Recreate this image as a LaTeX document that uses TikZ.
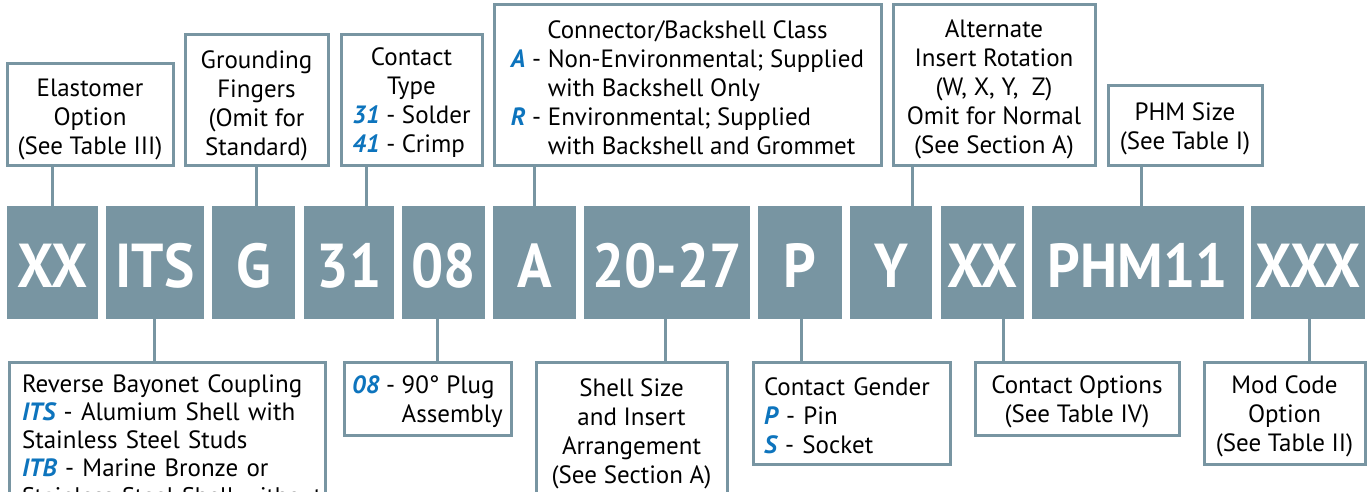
\documentclass[tikz,border=0pt]{standalone}
\usepackage{fontspec}
\setmainfont{PT Sans}
\newfontfamily\codefont[FakeStretch=0.92]{PT Sans}
\definecolor{slate}{HTML}{7895A2}
\definecolor{codeblue}{HTML}{0D74BD}
\newcommand{\hl}[1]{{\color{codeblue}\bfseries\itshape #1}}
\newcommand{\fs}[1][26pt]{\rule{0pt}{#1}}
\tikzset{
  codebox/.style={fill=slate, text=white, inner sep=0pt, outer sep=0pt, anchor=north west,
    minimum height=113pt, text height=49pt, text depth=0pt,
    font=\codefont\bfseries\fontsize{62}{62}\selectfont},
  descbox/.style={draw=slate, line width=3pt, fill=white, inner sep=0pt, outer sep=0pt,
    anchor=north west, font=\fontsize{25}{29}\selectfont},
  link/.style={draw=slate, line width=3pt},
}
\begin{document}
\begin{tikzpicture}[x=1pt,y=-1pt]
\useasboundingbox (0,0) rectangle (1371,492);
\clip (0,0) rectangle (1371,492);
% code boxes
\node[codebox, minimum width=91pt]  (cxx)   at (7,206)    {XX};
\node[codebox, minimum width=98pt]  (cits)  at (106,206)  {ITS};
\node[codebox, minimum width=83pt]  (cg)    at (212,206)  {G};
\node[codebox, minimum width=90pt]  (c31)   at (304,206)  {31};
\node[codebox, minimum width=83pt]  (c08)   at (402,206)  {08};
\node[codebox, minimum width=83pt]  (ca)    at (493,206)  {A};
\node[codebox, minimum width=166pt] (c2027) at (584,206)  {20-27};
\node[codebox, minimum width=84pt]  (cp)    at (758,206)  {P};
\node[codebox, minimum width=82pt]  (cy)    at (850,206)  {Y};
\node[codebox, minimum width=83pt]  (cxx2)  at (941,206)  {XX};
\node[codebox, minimum width=212pt] (cphm)  at (1032,206) {PHM11};
\node[codebox, minimum width=114pt] (cxxx)  at (1251,206) {XXX};
% top description boxes
\node[descbox, minimum width=166pt, minimum height=102pt, align=center] (elast) at (7,64)
  {\fs Elastomer\\Option\\(See Table III)};
\node[descbox, minimum width=143pt, minimum height=131pt, align=center] (ground) at (185,35)
  {\fs[28pt]Grounding\\Fingers\\(Omit for\\Standard)};
\node[descbox, minimum width=141pt, minimum height=131pt, align=center] (ctype) at (341,35)
  {\fs Contact\\Type\\\begin{tabular}[t]{@{}l@{}}\hl{31} - Solder\\\hl{41} - Crimp\end{tabular}};
\node[descbox, minimum width=387pt, minimum height=161pt, align=center] (cbs) at (494,5)
  {\fs[30pt]Connector/Backshell Class\\\begin{tabular}[t]{@{}l@{}}\hl{A} - Non-Environmental; Supplied\\\hphantom{\hl{A} - }with Backshell Only\\\hl{R} - Environmental; Supplied\\\hphantom{\hl{A} - }with Backshell and Grommet\end{tabular}};
\node[descbox, minimum width=202pt, minimum height=161pt, align=center] (alt) at (893,5)
  {\fs Alternate\\Insert Rotation\\(W, X, Y,~ Z)\\Omit for Normal\\(See Section A)};
\node[descbox, minimum width=154pt, minimum height=80pt, align=center] (phm) at (1108,86)
  {\fs[23pt]PHM Size\\(See Table I)};
% bottom description boxes
\node[descbox, minimum width=316pt, minimum height=155pt, text width=290pt, inner xsep=13pt, align=left,
  font=\fontsize{25}{28}\selectfont] (its) at (9,362)
  {Reverse Bayonet Coupling\\\hl{ITS} - Alumium Shell with\\Stainless Steel Studs\\\hl{ITB} - Marine Bronze or\\\mbox{\fontsize{24}{28}\selectfont Stainless Steel Shell without}};
\node[descbox, minimum width=167pt, minimum height=73pt, align=left] (p08) at (344,362)
  {\fs[25pt]\hl{08} - 90° Plug\\\hphantom{\hl{08} - }Assembly};
\node[descbox, minimum width=191pt, minimum height=143pt, align=center] (shell) at (536,362)
  {Shell Size\\and Insert\\Arrangement\\(See Section A)};
\node[descbox, minimum width=197pt, minimum height=102pt, text width=175pt, inner xsep=11pt, align=left] (gender) at (753,362)
  {\fs[24pt]Contact Gender\\\hl{P} - Pin\\\hl{S} - Socket};
\node[descbox, minimum width=204pt, minimum height=73pt, align=center] (copt) at (975,362)
  {\fs[25pt]Contact Options\\(See Table IV)};
\node[descbox, minimum width=161pt, minimum height=102pt, align=center] (mod) at (1204,362)
  {\fs[25pt]Mod Code\\Option\\(See Table II)};
% connector x positions
\coordinate (x1) at (52,0);
\coordinate (x2) at (256,0);
\coordinate (x3) at (366,0);
\coordinate (x4) at (534,0);
\coordinate (x5) at (912,0);
\coordinate (x6) at (1141,0);
\coordinate (x7) at (154,0);
\coordinate (x8) at (437,0);
\coordinate (x9) at (665,0);
\coordinate (x10) at (801,0);
\coordinate (x11) at (1003,0);
\coordinate (x12) at (1309,0);
\draw[link] (elast.south -| x1) -- (cxx.north -| x1);
\draw[link] (ground.south -| x2) -- (cg.north -| x2);
\draw[link] (ctype.south -| x3) -- (c31.north -| x3);
\draw[link] (cbs.south -| x4) -- (ca.north -| x4);
\draw[link] (alt.south -| x5) -- (cy.north -| x5);
\draw[link] (phm.south -| x6) -- (cphm.north -| x6);
\draw[link] (cits.south -| x7) -- (its.north -| x7);
\draw[link] (c08.south -| x8) -- (p08.north -| x8);
\draw[link] (c2027.south -| x9) -- (shell.north -| x9);
\draw[link] (cp.south -| x10) -- (gender.north -| x10);
\draw[link] (cxx2.south -| x11) -- (copt.north -| x11);
\draw[link] (cxxx.south -| x12) -- (mod.north -| x12);
\end{tikzpicture}
\end{document}
